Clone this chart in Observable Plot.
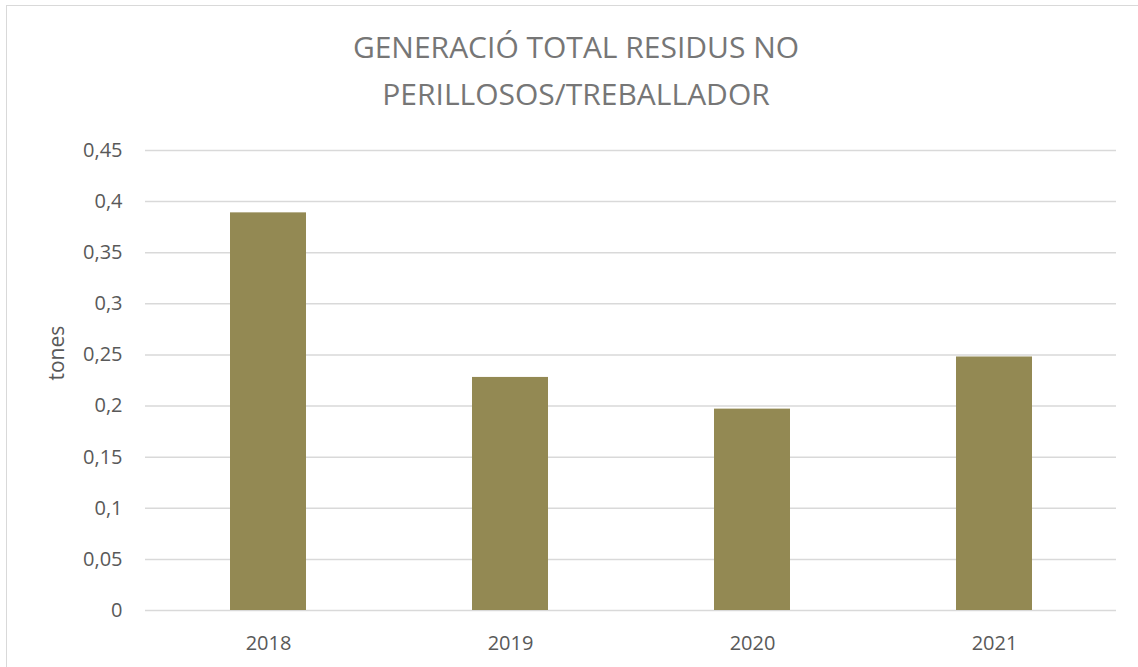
<!DOCTYPE html>
<html>
<head>
<meta charset="utf-8">
<script src="https://cdn.jsdelivr.net/npm/d3@7"></script>
<script src="https://cdn.jsdelivr.net/npm/@observablehq/plot@0.6"></script>
<style>
  html, body { margin: 0; padding: 0; background: #fff; }
  #wrap { position: relative; width: 1138px; height: 667px; overflow: hidden; background: #fff; font-family: "Open Sans", sans-serif; }
  #frame { position: absolute; left: 6px; top: 5px; width: 1200px; height: 700px; border-left: 1px solid #d9d9d9; border-top: 1px solid #d9d9d9; }
  .title { position: absolute; left: 0; width: 1152px; text-align: center; font-size: 30px; line-height: 47px; color: #767676; white-space: nowrap; }
  #chart { position: absolute; left: 0; top: 120px; }
</style>
</head>
<body>
<div id="wrap">
  <div id="frame"></div>
  <div class="title" id="t1" style="top:23px"></div>
  <div class="title" id="t2" style="top:70px"></div>
  <div id="chart"></div>
</div>
<script>
const titleLines = ["GENERACIÓ TOTAL RESIDUS NO", "PERILLOSOS/TREBALLADOR"];
const years = ["2018", "2019", "2020", "2021"];
const values = [0.389, 0.228, 0.197, 0.248];
const yTicks = [0, 0.05, 0.1, 0.15, 0.2, 0.25, 0.3, 0.35, 0.4, 0.45];
const yLabel = "tones";

document.getElementById("t1").textContent = titleLines[0];
document.getElementById("t2").textContent = titleLines[1];

const data = years.map((y, i) => ({year: y, value: values[i]}));
const fmt = d => String(d).replace(".", ",");

const chart = Plot.plot({
  width: 1138,
  height: 547,
  marginTop: 30,
  marginBottom: 57,
  marginLeft: 145,
  marginRight: 22,
  style: {fontFamily: "Open Sans, sans-serif", fontSize: "20px", color: "#595959", background: "transparent"},
  x: {domain: years, paddingInner: 0.687, paddingOuter: 0.3435, label: null},
  y: {domain: [0, 0.45], label: null},
  marks: [
    Plot.gridY(yTicks, {stroke: "#d9d9d9", strokeOpacity: 1, strokeWidth: 1.5}),
    Plot.barY(data, {x: "year", y: "value", fill: "#938953"}),
    Plot.axisY(yTicks, {tickSize: 0, tickPadding: 23, tickFormat: fmt, label: null, fill: "#595959", fontSize: 20}),
    Plot.axisX({tickSize: 0, tickPadding: 25, label: null, fill: "#595959", fontSize: 20}),
    Plot.text([yLabel], {frameAnchor: "left", dx: -88, rotate: -90, fill: "#595959", fontSize: 21})
  ]
});
document.getElementById("chart").appendChild(chart);
</script>
</body>
</html>
